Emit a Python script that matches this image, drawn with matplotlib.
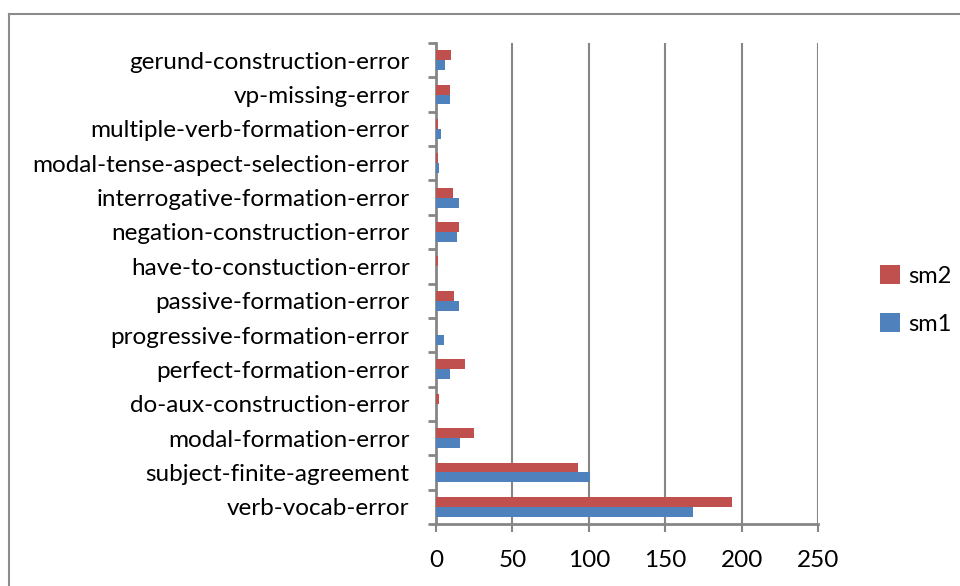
import matplotlib.pyplot as plt
import numpy as np
from matplotlib.lines import Line2D

categories = ['verb-vocab-error', 'subject-finite-agreement', 'modal-formation-error',
              'do-aux-construction-error', 'perfect-formation-error',
              'progressive-formation-error', 'passive-formation-error',
              'have-to-constuction-error', 'negation-construction-error',
              'interrogative-formation-error', 'modal-tense-aspect-selection-error',
              'multiple-verb-formation-error', 'vp-missing-error',
              'gerund-construction-error']
sm1 = [168, 101, 16, 0, 9, 5, 15, 0, 14, 15, 2, 3, 9, 6]
sm2 = [194, 93, 25, 2, 19, 0, 12, 1, 15, 11, 1, 1, 9, 10]

plt.rcParams['font.family'] = ['Lato', 'DejaVu Sans']

fig = plt.figure(figsize=(9.6, 5.86), dpi=100)
ax = fig.add_axes([436 / 960, 1 - 524 / 586, 382 / 960, 481 / 586])

y = np.arange(len(categories))
h = 0.29
ax.barh(y - h / 2, sm1, height=h, color='#4F81BD', label='sm1', zorder=3)
ax.barh(y + h / 2, sm2, height=h, color='#C0504D', label='sm2', zorder=3)

ax.set_xlim(0, 250)
ax.set_ylim(-0.5, len(categories) - 0.5)
ax.set_xticks([0, 50, 100, 150, 200, 250])
ax.set_yticks(y)
ax.set_yticklabels(categories)
ax.set_yticks(np.arange(-0.5, len(categories), 1), minor=True)
ax.tick_params(axis='y', which='major', length=0, pad=19, labelsize=17.5, labelcolor='black')
ax.tick_params(axis='y', which='minor', length=6, width=2, color='#868686')
ax.tick_params(axis='x', length=6, width=1.5, color='#868686', labelsize=17.5, pad=13)
ax.grid(axis='x', color='#868686', lw=1.5, zorder=0)

for s in ['top', 'right']:
    ax.spines[s].set_visible(False)
for s in ['left', 'bottom']:
    ax.spines[s].set_color('#868686')
    ax.spines[s].set_linewidth(2)

handles, labels = ax.get_legend_handles_labels()
fig.legend(handles[::-1], labels[::-1], loc='center left', bbox_to_anchor=(880 / 960, 1 - 300 / 586),
           frameon=False, fontsize=17, handlelength=0.85, handleheight=0.85,
           labelspacing=1.1, handletextpad=0.35, borderaxespad=0, borderpad=0)

fig.add_artist(Line2D([9 / 960, 9 / 960], [0, 1 - 14 / 586], color='#8c8c8c', lw=1.5))
fig.add_artist(Line2D([9 / 960, 1], [1 - 14 / 586, 1 - 14 / 586], color='#8c8c8c', lw=1.5))

fig.savefig('out.png', dpi=100)
